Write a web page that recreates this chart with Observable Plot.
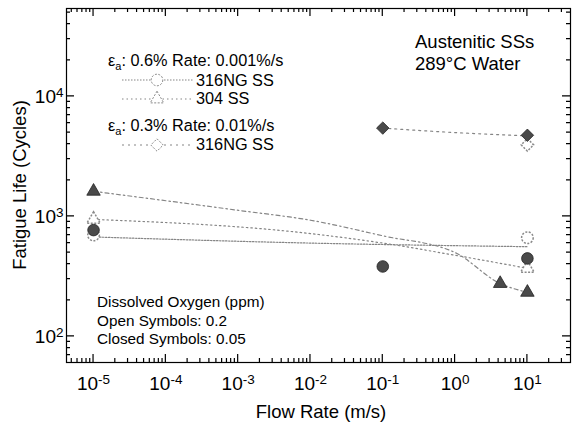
<!DOCTYPE html>
<html><head><meta charset="utf-8">
<script src="https://cdn.jsdelivr.net/npm/d3@7"></script>
<script src="https://cdn.jsdelivr.net/npm/@observablehq/plot@0.6"></script>
<style>body{margin:0;background:#fff;} #chart{width:573px;height:430px;}</style>
</head><body><div id="chart"></div>
<script>
// ---- tick labels ----
const xTickValues = [1e-5, 1e-4, 1e-3, 1e-2, 1e-1, 1, 10];
const xTickLabels = ["10^-5", "10^-4", "10^-3", "10^-2", "10^-1", "10^0", "10^1"];
const yTickValues = [100, 1000, 10000];
const yTickLabels = ["10^2", "10^3", "10^4"];

// ---- measured points (flow rate m/s, fatigue life cycles) ----
// 316NG SS, ea 0.6%: open (0.2 ppm) / closed (0.05 ppm)
const ng06OpenFlow = [1e-5, 10];
const ng06OpenLife = [700, 665];
const ng06ClosedFlow = [1e-5, 0.1, 10];
const ng06ClosedLife = [770, 383, 447];
// 304 SS, ea 0.6%
const ss304OpenFlow = [1e-5, 10];
const ss304OpenLife = [945, 370];
const ss304ClosedFlow = [1e-5, 4.2, 10];
const ss304ClosedLife = [1620, 276, 233];
// 316NG SS, ea 0.3%
const ng03ClosedFlow = [0.1, 10];
const ng03ClosedLife = [5450, 4750];
const ng03OpenFlow = [10];
const ng03OpenLife = [3950];

// ---- trend curves ----
const trendNg06Flow = [1e-5, 1e-2, 10];
const trendNg06Life = [675, 600, 560];
const trend304ClosedFlow = [1e-5, 1e-3, 1e-2, 0.1, 1, 4.2, 10];
const trend304ClosedLife = [1620, 1125, 930, 690, 500, 276, 233];
const trend304OpenFlow = [1e-5, 1e-2, 0.1, 1, 10];
const trend304OpenLife = [945, 720, 600, 475, 370];
const trendNg03Flow = [0.1, 1, 10];
const trendNg03Life = [5450, 5000, 4700];

const rows = (f, l) => f.map((v, i) => ({flow: v, life: l[i]}));

// minor tick positions
const xMinor = [], yMinor = [];
for (let k = -6; k <= 1; k++) for (let m = 2; m <= 9; m++) xMinor.push(m * 10 ** k);
for (let k = 1; k <= 4; k++) for (let m = 2; m <= 9; m++) yMinor.push(m * 10 ** k);

const W = 573, H = 430, mT = 8, mR = 3, mB = 68, mL = 66;
const xDom = [10 ** -5.374, 10 ** 1.596];
const yDom = [10 ** 1.783, 10 ** 4.733];
const xIn = v => v >= xDom[0] && v <= xDom[1];
const yIn = v => v >= yDom[0] && v <= yDom[1];

const lineGray = "#858585";
const openStroke = "#8a8a8a";
const filledFill = "#4a4a4a";

const xlab = new Map(xTickValues.map((v, i) => [v, xTickLabels[i]]));
const ylab = new Map(yTickValues.map((v, i) => [v, yTickLabels[i]]));

const chart = Plot.plot({
  width: W, height: H,
  marginTop: mT, marginRight: mR, marginBottom: mB, marginLeft: mL,
  style: {fontFamily: "'Liberation Sans', Arial, sans-serif", background: "white", color: "black"},
  x: {type: "log", domain: xDom},
  y: {type: "log", domain: yDom},
  marks: [
    Plot.frame({stroke: "black", strokeWidth: 1.2}),
    Plot.axisX(xTickValues, {tickSize: 0, tickPadding: 14, fontSize: 19, label: null, tickFormat: d => xlab.get(d)}),
    Plot.axisY(yTickValues, {tickSize: 0, tickPadding: 3, fontSize: 19, label: null, tickFormat: d => ylab.get(d)}),
    // trend curves
    Plot.line(rows(trendNg06Flow, trendNg06Life), {x: "flow", y: "life", stroke: lineGray, strokeWidth: 1.2, strokeDasharray: "1.5,1.5", curve: "monotone-x"}),
    Plot.line(rows(trend304ClosedFlow, trend304ClosedLife), {x: "flow", y: "life", stroke: lineGray, strokeWidth: 1.2, strokeDasharray: "4,3,1.5,3", curve: "monotone-x"}),
    Plot.line(rows(trend304OpenFlow, trend304OpenLife), {x: "flow", y: "life", stroke: lineGray, strokeWidth: 1.2, strokeDasharray: "1.5,3", curve: "monotone-x"}),
    Plot.line(rows(trendNg03Flow, trendNg03Life), {x: "flow", y: "life", stroke: lineGray, strokeWidth: 1.2, strokeDasharray: "2,4", curve: "monotone-x"}),
    // open symbols
    Plot.dot(rows(ng06OpenFlow, ng06OpenLife), {x: "flow", y: "life", r: 5.8, symbol: "circle", fill: "white", stroke: openStroke, strokeDasharray: "2,1.5"}),
    Plot.dot(rows(ss304OpenFlow, ss304OpenLife), {x: "flow", y: "life", r: 5, symbol: "triangle", fill: "white", stroke: openStroke, strokeDasharray: "2,1.5"}),
    Plot.dot(rows(ng03OpenFlow, ng03OpenLife), {x: "flow", y: "life", r: 5.6, symbol: "diamond2", fill: "white", stroke: openStroke, strokeDasharray: "2,1.5"}),
    // closed symbols
    Plot.dot(rows(ng06ClosedFlow, ng06ClosedLife), {x: "flow", y: "life", r: 5.8, symbol: "circle", fill: filledFill, stroke: "#222", strokeWidth: 0.8}),
    Plot.dot(rows(ss304ClosedFlow, ss304ClosedLife), {x: "flow", y: "life", r: 5, symbol: "triangle", fill: filledFill, stroke: "#222", strokeWidth: 0.8}),
    Plot.dot(rows(ng03ClosedFlow, ng03ClosedLife), {x: "flow", y: "life", r: 5.6, symbol: "diamond2", fill: filledFill, stroke: "#222", strokeWidth: 0.8})
  ]
});
document.getElementById("chart").appendChild(chart);

const svg = d3.select(chart);
const font = "'Liberation Sans', Arial, sans-serif";
function txt(x, y, s, size, anchor = "start") {
  return svg.append("text").attr("x", x).attr("y", y).attr("font-family", font)
    .attr("font-size", size).attr("text-anchor", anchor).attr("fill", "black").text(s);
}

// inward tick marks on all four sides, placed with Plot's own scales
const sx = chart.scale("x"), sy = chart.scale("y");
const x0 = mL, x1 = W - mR, y0 = mT, y1 = H - mB;
for (const [vals, len] of [[xTickValues, 8], [xMinor.filter(xIn), 4]]) {
  for (const v of vals) {
    const px = sx.apply(v);
    svg.append("path").attr("d", `M${px},${y1}V${y1 - len}M${px},${y0}V${y0 + len}`)
      .attr("stroke", "black").attr("stroke-width", 1.2).attr("fill", "none");
  }
}
for (const [vals, len] of [[yTickValues, 8], [yMinor.filter(yIn), 4]]) {
  for (const v of vals) {
    const py = sy.apply(v);
    svg.append("path").attr("d", `M${x0},${py}H${x0 + len}M${x1},${py}H${x1 - len}`)
      .attr("stroke", "black").attr("stroke-width", 1.2).attr("fill", "none");
  }
}

// superscript exponents in tick labels
svg.selectAll('g[aria-label="x-axis tick label"] text, g[aria-label="y-axis tick label"] text').each(function () {
  const s = this.textContent;
  if (!s.includes("^")) return;
  const [base, exp] = s.split("^");
  const t = d3.select(this);
  t.text(null);
  t.append("tspan").text(base);
  t.append("tspan").attr("dy", "-6").attr("font-size", "13.5").text(exp);
});

// axis titles
txt(321, 418, "Flow Rate (m/s)", 18.5, "middle");
txt(0, 0, "Fatigue Life (Cycles)", 18.5, "middle").attr("transform", "translate(26,185) rotate(-90)");
// title
txt(415, 48, "Austenitic SSs", 18.5);
txt(415, 70, "289°C Water", 18.5);
// dissolved oxygen note
txt(97, 307, "Dissolved Oxygen (ppm)", 15.3);
txt(97, 326, "Open Symbols: 0.2", 15.3);
txt(97, 344, "Closed Symbols: 0.05", 15.3);

// legend
function header(y, rest) {
  const t = svg.append("text").attr("x", 108).attr("y", y).attr("font-family", font)
    .attr("font-size", 16.3).attr("text-anchor", "start").attr("fill", "black");
  t.append("tspan").text("ε");
  t.append("tspan").attr("font-size", 11).attr("dy", 4).text("a");
  t.append("tspan").attr("dy", -4).text(rest);
}
header(66, ": 0.6% Rate: 0.001%/s");
header(131, ": 0.3% Rate: 0.01%/s");
const legendItems = [
  {y: 80, dash: "1.5,1.5", sym: d3.symbolCircle, size: Math.PI * 5.8 * 5.8, label: "316NG SS", base: 86},
  {y: 99, dash: "1.5,3", sym: d3.symbolTriangle, size: Math.PI * 25, label: "304 SS", base: 104},
  {y: 145, dash: "2,4", sym: d3.symbolDiamond2, size: Math.PI * 5.6 * 5.6, label: "316NG SS", base: 150}
];
for (const it of legendItems) {
  svg.append("line").attr("x1", 122).attr("x2", 193).attr("y1", it.y).attr("y2", it.y)
    .attr("stroke", lineGray).attr("stroke-width", 1.2).attr("stroke-dasharray", it.dash);
  svg.append("path").attr("d", d3.symbol(it.sym, it.size)()).attr("transform", `translate(157,${it.y})`)
    .attr("fill", "white").attr("stroke", openStroke).attr("stroke-dasharray", "2,1.5");
  txt(196, it.base, it.label, 16.3);
}
</script>
</body></html>
